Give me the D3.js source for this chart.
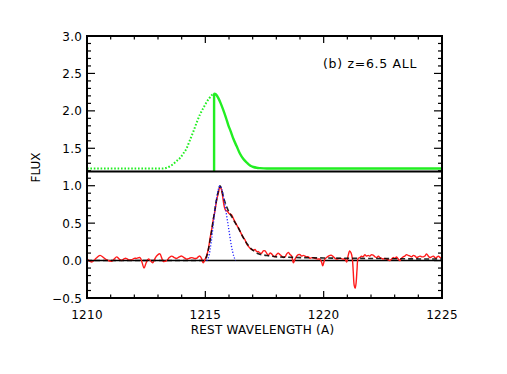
<!DOCTYPE html>
<html><head><meta charset="utf-8">
<script src="https://cdn.jsdelivr.net/npm/d3@7"></script>
<style>body{margin:0;background:#fff}svg{display:block}text{font-family:"DejaVu Sans",sans-serif;fill:#000}</style>
</head><body>
<script>
// ---- data ----
const xTicks = [1210, 1215, 1220, 1225];
const yTicks = [-0.5, 0.0, 0.5, 1.0, 1.5, 2.0, 2.5, 3.0];
const titleText = "(b) z=6.5 ALL";
const separatorLevel = 1.19;

const redWave = [1210.0,1210.2,1210.38,1210.55,1210.7,1210.83,1211.04,1211.15,1211.25,1211.36,1211.46,1211.55,1211.65,1211.77,1211.89,1212.0,1212.1,1212.24,1212.33,1212.41,1212.5,1212.59,1212.68,1212.77,1212.86,1212.94,1213.08,1213.15,1213.22,1213.3,1213.37,1213.48,1213.58,1213.69,1213.79,1213.9,1214.0,1214.1,1214.21,1214.32,1214.42,1214.52,1214.63,1214.7,1214.77,1214.85,1214.91,1214.98,1215.06,1215.13,1215.2,1215.27,1215.34,1215.41,1215.48,1215.55,1215.62,1215.68,1215.73,1215.8,1215.86,1215.93,1216.0,1216.06,1216.11,1216.2,1216.3,1216.39,1216.5,1216.6,1216.67,1216.75,1216.82,1216.9,1216.96,1217.03,1217.1,1217.17,1217.24,1217.31,1217.38,1217.45,1217.52,1217.59,1217.66,1217.73,1217.8,1217.87,1217.94,1218.01,1218.08,1218.15,1218.22,1218.3,1218.37,1218.44,1218.51,1218.58,1218.65,1218.72,1218.79,1218.86,1218.93,1219.0,1219.07,1219.14,1219.21,1219.28,1219.35,1219.42,1219.52,1219.63,1219.74,1219.84,1219.91,1219.96,1220.01,1220.05,1220.12,1220.2,1220.27,1220.34,1220.41,1220.48,1220.58,1220.69,1220.8,1220.9,1220.97,1221.03,1221.1,1221.16,1221.21,1221.25,1221.29,1221.33,1221.37,1221.41,1221.46,1221.53,1221.6,1221.67,1221.74,1221.81,1221.88,1221.95,1222.03,1222.1,1222.17,1222.24,1222.31,1222.38,1222.45,1222.52,1222.59,1222.66,1222.73,1222.8,1222.87,1222.94,1223.01,1223.08,1223.15,1223.22,1223.29,1223.36,1223.43,1223.5,1223.57,1223.65,1223.72,1223.79,1223.86,1223.93,1224.0,1224.07,1224.14,1224.21,1224.28,1224.35,1224.42,1224.49,1224.56,1224.63,1224.7,1224.74,1224.8,1224.85,1224.92,1225.0];
const redFlux = [0.02,-0.02,0.03,0.07,0.04,0.01,-0.01,0.02,0.05,0.02,0.0,0.02,0.03,0.01,0.01,0.03,0.03,0.04,-0.03,-0.1,-0.03,0.02,0.0,-0.03,0.02,0.06,0.09,0.04,-0.01,-0.01,0.0,0.04,0.06,0.04,0.03,0.05,0.06,0.04,0.02,0.03,0.04,0.03,0.03,0.05,0.06,0.02,-0.03,0.01,0.07,0.16,0.3,0.42,0.56,0.67,0.81,0.9,0.99,0.95,0.86,0.72,0.67,0.66,0.63,0.62,0.61,0.55,0.49,0.44,0.37,0.31,0.28,0.22,0.19,0.16,0.15,0.14,0.15,0.12,0.12,0.1,0.1,0.13,0.13,0.1,0.07,0.1,0.09,0.06,0.05,0.08,0.1,0.08,0.06,0.04,0.05,0.09,0.11,0.08,0.06,-0.03,0.02,0.06,0.08,0.08,0.06,0.07,0.06,0.05,0.05,0.03,0.04,0.03,0.02,0.02,-0.02,-0.07,-0.02,0.02,0.04,0.06,0.07,0.07,0.05,0.03,0.02,0.03,0.02,0.02,-0.02,0.06,0.13,0.1,0.03,-0.15,-0.33,-0.37,-0.3,-0.12,0.03,0.04,0.06,0.05,0.08,0.06,0.07,0.06,0.08,0.07,0.05,0.04,0.06,0.04,0.03,0.02,0.03,0.02,0.01,0.0,0.02,0.04,0.03,0.05,0.02,0.0,0.03,0.05,0.06,0.08,0.07,0.06,0.05,0.07,0.06,0.04,0.05,0.06,0.05,0.05,0.06,0.09,0.06,0.04,0.05,0.06,0.04,0.03,0.05,0.06,0.04,0.05];

const modelWave = [1210.0,1214.95,1215.05,1215.15,1215.25,1215.35,1215.45,1215.55,1215.62,1215.7,1215.8,1215.9,1216.0,1216.11,1216.25,1216.39,1216.53,1216.67,1216.82,1216.96,1217.1,1217.24,1217.45,1217.66,1218.0,1218.5,1219.0,1220.0,1221.0,1222.0,1223.0,1224.0,1225.0];
const modelFlux = [0.0,0.0,0.05,0.18,0.36,0.57,0.77,0.93,1.0,0.93,0.81,0.72,0.65,0.59,0.51,0.44,0.35,0.27,0.2,0.15,0.12,0.09,0.075,0.065,0.05,0.045,0.04,0.035,0.03,0.028,0.025,0.022,0.02];

const gaussWave = [1215.05,1215.15,1215.25,1215.35,1215.45,1215.55,1215.62,1215.7,1215.8,1215.9,1216.0,1216.1,1216.2,1216.28];
const gaussFlux = [0.0,0.06,0.25,0.52,0.78,0.95,1.0,0.95,0.8,0.6,0.4,0.2,0.06,0.0];

const intrWaveBlue = [1210.0,1213.2,1213.37,1213.51,1213.65,1213.79,1213.93,1214.07,1214.21,1214.35,1214.49,1214.63,1214.77,1214.92,1215.06,1215.17,1215.27,1215.37];
const intrFluxBlue = [1.23,1.23,1.24,1.26,1.29,1.33,1.37,1.43,1.50,1.61,1.72,1.84,1.95,2.04,2.12,2.17,2.21,2.235];
const intrWaveRed = [1215.37,1215.37,1215.45,1215.55,1215.65,1215.76,1215.87,1215.97,1216.08,1216.18,1216.32,1216.46,1216.6,1216.75,1216.89,1217.03,1217.17,1217.31,1217.6,1225.0];
const intrFluxRed = [1.19,2.235,2.22,2.17,2.10,2.01,1.91,1.81,1.72,1.63,1.53,1.43,1.36,1.31,1.27,1.25,1.24,1.235,1.23,1.23];

// ---- chart ----
const W = 507, H = 374;
const L = 87, R = 442, T = 36, B = 298;
const svg = d3.select("body").append("svg").attr("width", W).attr("height", H);
svg.append("rect").attr("width", W).attr("height", H).attr("fill", "#fff");

const x = d3.scaleLinear().domain([1210, 1225]).range([L, R]);
const y = d3.scaleLinear().domain([-0.5, 3.0]).range([B, T]);

const zip = (a, b) => a.map((v, i) => [v, b[i]]);
const line = d3.line().x(d => x(d[0])).y(d => y(d[1]));

const g = svg.append("g");
const clip = svg.append("clipPath").attr("id", "c").append("rect")
  .attr("x", L).attr("y", T).attr("width", R - L).attr("height", B - T);
const plot = svg.append("g").attr("clip-path", "url(#c)");

// zero line and separator
plot.append("line").attr("x1", L).attr("x2", R).attr("y1", y(0)).attr("y2", y(0))
  .attr("stroke", "#000").attr("stroke-width", 1.6);

// green intrinsic profile
plot.append("path").datum(zip(intrWaveBlue, intrFluxBlue))
  .attr("d", line.curve(d3.curveMonotoneX)).attr("fill", "none")
  .attr("stroke", "#22ee22").attr("stroke-width", 2).attr("stroke-dasharray", "1.6,1.8");
plot.append("path").datum(zip(intrWaveRed, intrFluxRed))
  .attr("d", d3.line().x(d => x(d[0])).y(d => y(d[1])).curve(d3.curveLinear)(zip(intrWaveRed, intrFluxRed).slice(0,2)) +
     d3.line().x(d => x(d[0])).y(d => y(d[1])).curve(d3.curveMonotoneX)(zip(intrWaveRed, intrFluxRed).slice(1)).replace(/^M/, "M"))
  .attr("fill", "none").attr("stroke", "#22ee22").attr("stroke-width", 2.4);

plot.append("line").attr("x1", L).attr("x2", R).attr("y1", y(separatorLevel)).attr("y2", y(separatorLevel))
  .attr("stroke", "#000").attr("stroke-width", 2);

// red observed spectrum
plot.append("path").datum(zip(redWave, redFlux))
  .attr("d", d3.line().x(d => x(d[0])).y(d => y(d[1])).curve(d3.curveCatmullRom.alpha(0.5)))
  .attr("fill", "none").attr("stroke", "#ff1a1a").attr("stroke-width", 1.4);

// black dashed model
plot.append("path").datum(zip(modelWave, modelFlux))
  .attr("d", d3.line().x(d => x(d[0])).y(d => y(d[1])).curve(d3.curveMonotoneX))
  .attr("fill", "none").attr("stroke", "#000").attr("stroke-width", 1.6).attr("stroke-dasharray", "5,3")
  .attr("opacity", 0.85);

// blue dotted gaussian
plot.append("path").datum(zip(gaussWave, gaussFlux))
  .attr("d", d3.line().x(d => x(d[0])).y(d => y(d[1])).curve(d3.curveMonotoneX))
  .attr("fill", "none").attr("stroke", "#2222ff").attr("stroke-width", 1.3).attr("stroke-dasharray", "1.2,1.8");

// axes
const xMinor = d3.range(1210, 1225.01, 1);
const yMinor = d3.range(-5, 31).map(v => v / 10);
const ax = svg.append("g");
const tk = (x1, y1, x2, y2) => ax.append("line").attr("x1", x1).attr("y1", y1).attr("x2", x2).attr("y2", y2)
  .attr("stroke", "#000").attr("stroke-width", 1.2);
xMinor.forEach(v => {
  const major = xTicks.includes(v);
  const len = major ? 7 : 3.5;
  tk(x(v), B, x(v), B - len);
  tk(x(v), T, x(v), T + len);
});
yMinor.forEach(v => {
  const major = yTicks.some(t => Math.abs(t - v) < 1e-6);
  const len = major ? 8 : 4;
  tk(L, y(v), L + len, y(v));
  tk(R, y(v), R - len, y(v));
});
ax.append("rect").attr("x", L).attr("y", T).attr("width", R - L).attr("height", B - T)
  .attr("fill", "none").attr("stroke", "#000").attr("stroke-width", 2);

// tick labels
svg.append("g").selectAll("text").data(xTicks).join("text")
  .attr("x", d => x(d)).attr("y", B + 20.5).attr("text-anchor", "middle")
  .attr("font-size", 12).attr("letter-spacing", 0.3).text(d => d);
svg.append("g").selectAll("text").data(yTicks).join("text")
  .attr("x", L - 5).attr("y", d => y(d) + 4.5).attr("text-anchor", "end")
  .attr("font-size", 12).attr("letter-spacing", 0.2).text(d => (d < 0 ? "\u2212" : "") + Math.abs(d).toFixed(1));

// axis titles
svg.append("text").attr("x", (L + R) / 2 - 2).attr("y", 334).attr("text-anchor", "middle")
  .attr("font-size", 12).attr("letter-spacing", 0.25).text("REST WAVELENGTH (A)");
svg.append("text").attr("transform", "translate(40,167.5) rotate(-90)").attr("text-anchor", "middle")
  .attr("font-size", 12).text("FLUX");
svg.append("text").attr("x", 323).attr("y", 67.5).attr("font-size", 12.5).attr("letter-spacing", 0.7)
  .text(titleText);
</script>
</body></html>
